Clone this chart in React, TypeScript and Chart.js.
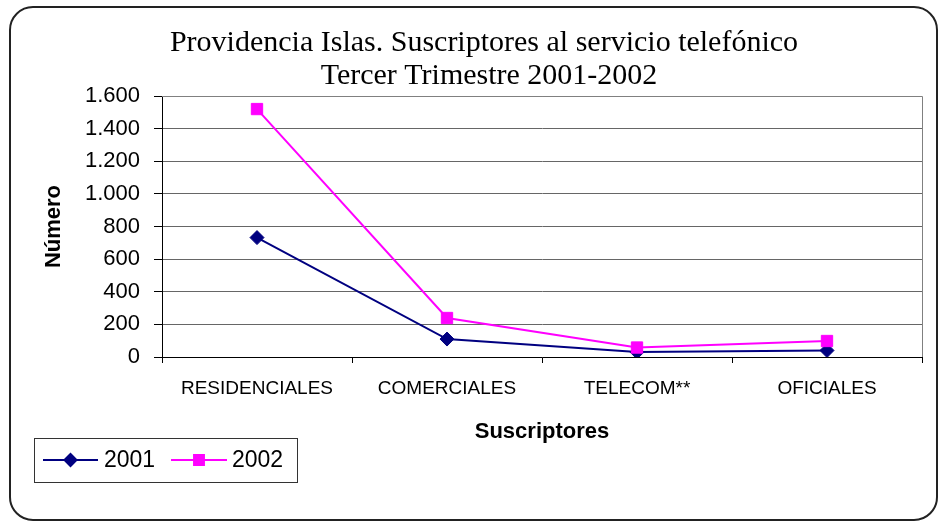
import React, { useEffect, useRef } from 'react';
import { Chart, registerables } from 'chart.js';
import { drawPoint } from 'chart.js/helpers';

Chart.register(...registerables);

const categories = ['RESIDENCIALES', 'COMERCIALES', 'TELECOM**', 'OFICIALES'];
const seriesNames = ['2001', '2002'];
const values2001 = [732, 110, 30, 40];
const values2002 = [1520, 239, 58, 98];
const yMin = 0;
const yMax = 1600;
const yStep = 200;
const titleLines = ['Providencia Islas. Suscriptores al servicio telefónico', 'Tercer Trimestre 2001-2002'];
const yAxisTitle = 'Número';
const xAxisTitle = 'Suscriptores';

const colors = ['#000080', '#FF00FF'];
const pointStyles = ['rectRot', 'rect'];
const pointRadii = [7, 8];
const SANS = '"Liberation Sans", Arial, sans-serif';

function fmt(v: number): string {
  return String(v).replace(/\B(?=(\d{3})+(?!\d))/g, '.');
}

const decorPlugin = {
  id: 'decor',
  beforeDatasetsDraw(chart: any) {
    const { ctx, chartArea: a } = chart;
    ctx.save();
    ctx.strokeStyle = '#808080';
    ctx.lineWidth = 1;
    ctx.beginPath();
    ctx.moveTo(a.left, Math.round(a.top) + 0.5);
    ctx.lineTo(Math.round(a.right) + 0.5, Math.round(a.top) + 0.5);
    ctx.lineTo(Math.round(a.right) + 0.5, a.bottom);
    ctx.stroke();
    ctx.restore();
  },
  afterDraw(chart: any) {
    const { ctx } = chart;
    ctx.save();
    // Title
    ctx.fillStyle = '#000';
    ctx.font = '30px "Liberation Serif", serif';
    ctx.textAlign = 'center';
    ctx.textBaseline = 'middle';
    ctx.fillText(titleLines[0], 484, 43);
    ctx.fillText(titleLines[1], 489, 76);

    // Legend
    const bx = 34, by = 438, bw = 263, bh = 44;
    ctx.fillStyle = '#fff';
    ctx.fillRect(bx, by, bw, bh);
    ctx.strokeStyle = '#333';
    ctx.lineWidth = 1;
    ctx.strokeRect(bx + 0.5, by + 0.5, bw, bh);
    const cy = by + bh / 2;
    const items = [
      { x0: 43, x1: 98, tx: 104 },
      { x0: 171, x1: 227, tx: 232 },
    ];
    chart.data.datasets.forEach((ds: any, i: number) => {
      const it = items[i];
      ctx.strokeStyle = ds.borderColor;
      ctx.lineWidth = 2;
      ctx.beginPath();
      ctx.moveTo(it.x0, cy);
      ctx.lineTo(it.x1, cy);
      ctx.stroke();
      ctx.fillStyle = ds.backgroundColor;
      ctx.strokeStyle = ds.borderColor;
      drawPoint(ctx, { pointStyle: ds.pointStyle, radius: ds.pointRadius - 1, rotation: 0, borderWidth: 1 } as any, (it.x0 + it.x1) / 2, cy);
      ctx.fillStyle = '#000';
      ctx.font = '23px ' + SANS;
      ctx.textAlign = 'left';
      ctx.textBaseline = 'middle';
      ctx.fillText(ds.label, it.tx, cy + 1);
    });
    ctx.restore();
  },
};

export default function App() {
  const ref = useRef<HTMLCanvasElement | null>(null);

  useEffect(() => {
    if (!ref.current) return;
    const datasets = [values2001, values2002].map((vals, i) => ({
      label: seriesNames[i],
      data: vals,
      borderColor: colors[i],
      backgroundColor: colors[i],
      borderWidth: 2,
      pointStyle: pointStyles[i],
      pointRadius: pointRadii[i],
      pointHoverRadius: pointRadii[i],
      pointBorderWidth: 1,
      tension: 0,
      order: i === 1 ? 0 : 1,
    }));
    const chart = new Chart(ref.current, {
      type: 'line',
      data: { labels: categories, datasets },
      plugins: [decorPlugin],
      options: {
        responsive: false,
        animation: false,
        layout: { padding: { left: 9, right: 19, top: 96, bottom: 66 } },
        plugins: {
          legend: { display: false },
          title: { display: false },
          tooltip: { enabled: false },
        },
        scales: {
          x: {
            offset: true,
            afterFit: (s: any) => { s.height = 100; },
            grid: {
              offset: true,
              drawOnChartArea: false,
              drawTicks: true,
              tickLength: 6,
              tickColor: '#000',
            },
            border: { display: true, color: '#000', width: 1 },
            ticks: {
              color: '#000',
              font: { family: SANS, size: 19 },
              padding: 14,
              maxRotation: 0,
              autoSkip: false,
            },
            title: {
              display: true,
              text: xAxisTitle,
              color: '#000',
              font: { family: SANS, size: 22, weight: 'bold' },
              padding: { top: 0, bottom: 12 },
            },
          },
          y: {
            min: yMin,
            max: yMax,
            afterFit: (s: any) => { s.width = 153; },
            grid: {
              color: '#666',
              lineWidth: 1,
              tickLength: 8,
              tickColor: '#000',
            },
            border: { display: true, color: '#000', width: 1 },
            ticks: {
              stepSize: yStep,
              color: '#000',
              font: { family: SANS, size: 22 },
              padding: 14,
              callback: (v: any) => fmt(Number(v)),
            },
            title: {
              display: true,
              text: yAxisTitle,
              color: '#000',
              font: { family: SANS, size: 22, weight: 'bold' },
              padding: { top: 32, bottom: 0 },
            },
          },
        },
      },
    } as any);
    return () => chart.destroy();
  }, []);

  return (
    <div style={{ position: 'fixed', left: 0, top: 0, width: 941, height: 523, background: '#fff' }}>
      <div
        style={{
          position: 'absolute',
          left: 9,
          top: 6,
          width: 929,
          height: 515,
          boxSizing: 'border-box',
          border: '2px solid #222',
          borderRadius: 24,
        }}
      />
      <canvas ref={ref} width={941} height={523} style={{ position: 'absolute', left: 0, top: 0, width: 941, height: 523 }} />
    </div>
  );
}
